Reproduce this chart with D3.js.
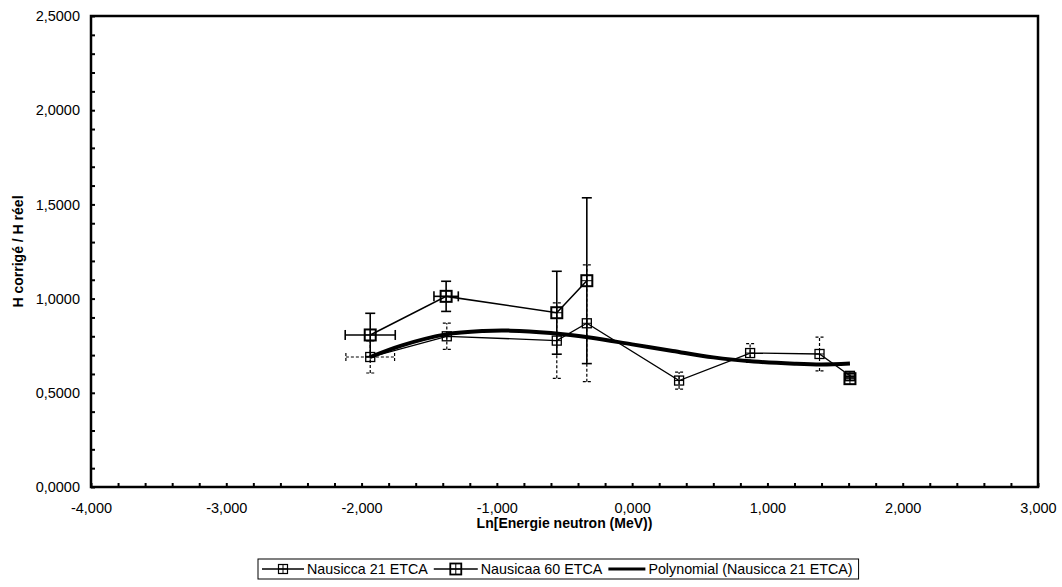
<!DOCTYPE html>
<html><head><meta charset="utf-8">
<script src="https://cdn.jsdelivr.net/npm/d3@7"></script>
<style>body{margin:0;background:#fff}text{font-family:"Liberation Sans",Arial,sans-serif}</style>
</head><body><svg id="c" width="1062" height="587"></svg>
<script>
// ---- data ----
const xTicks = [-4, -3, -2, -1, 0, 1, 2, 3];
const yTicks = [0, 0.5, 1, 1.5, 2, 2.5];
const seriesNames = ["Nausicca 21 ETCA", "Nausicaa 60 ETCA", "Polynomial (Nausicca 21 ETCA)"];
const x21 = [-1.936, -1.37, -0.557, -0.335, 0.347, 0.872, 1.385, 1.61];
const y21 = [0.690, 0.800, 0.777, 0.869, 0.565, 0.711, 0.706, 0.590];
const yErr21 = [0.085, 0.07, 0.20, 0.31, 0.045, 0.05, 0.09, 0.01];
const xErr21 = [0.18, 0, 0, 0, 0, 0, 0, 0];
const x60 = [-1.936, -1.375, -0.557, -0.335, 0.347, 1.61];
const y60 = [0.807, 1.012, 0.925, 1.095, null, 0.575];
const yErr60 = [0.115, 0.08, 0.22, 0.44, 0, 0.01];
const xErr60 = [0.185, 0.09, 0, 0, 0, 0];
const xPoly = [-1.936, -1.7, -1.375, -1.1, -0.9, -0.6, -0.3, 0, 0.3, 0.6, 0.9, 1.2, 1.4, 1.61];
const yPoly = [0.690, 0.752, 0.810, 0.828, 0.830, 0.817, 0.792, 0.757, 0.722, 0.688, 0.666, 0.654, 0.650, 0.655];

const svg = d3.select("#c");
const L = 91, R = 1038, T = 16, B = 487;
const x = d3.scaleLinear().domain([-4, 3]).range([L, R]);
const y = d3.scaleLinear().domain([0, 2.5]).range([B, T]);
const fx = v => d3.format(".3f")(v).replace(".", ",").replace("−", "-");
const fy = v => d3.format(".4f")(v).replace(".", ",");

// minor ticks
const yMinor = d3.range(0, 2.5001, 0.1);
const xMinor = d3.range(-4, 3.0001, 0.2);
svg.append("g").attr("transform", `translate(${L},0)`)
  .call(d3.axisRight(y).tickValues(yMinor).tickSize(4).tickFormat(""))
  .call(g => g.select(".domain").remove())
  .selectAll("line").attr("stroke", "#000").attr("stroke-width", 2);
svg.append("g").attr("transform", `translate(0,${B})`)
  .call(d3.axisTop(x).tickValues(xMinor).tickSize(4).tickFormat(""))
  .call(g => g.select(".domain").remove())
  .selectAll("line").attr("stroke", "#000").attr("stroke-width", 2);

// labels
svg.append("g").attr("transform", `translate(${L},0)`)
  .call(d3.axisLeft(y).tickValues(yTicks).tickSize(0).tickPadding(11).tickFormat(fy))
  .call(g => g.select(".domain").remove())
  .selectAll("text").attr("font-size", 14.5).attr("fill", "#000").attr("font-family", "Liberation Sans, Arial");
svg.append("g").attr("transform", `translate(0,${B})`)
  .call(d3.axisBottom(x).tickValues(xTicks).tickSize(0).tickPadding(16).tickFormat(fx))
  .call(g => g.select(".domain").remove())
  .selectAll("text").attr("font-size", 14.5).attr("fill", "#000").attr("font-family", "Liberation Sans, Arial");

// frame
svg.append("rect").attr("x", L).attr("y", T).attr("width", R - L).attr("height", B - T)
  .attr("fill", "none").attr("stroke", "#000").attr("stroke-width", 2.5);

// axis titles
svg.append("text").attr("x", (L + R) / 2).attr("y", 528).attr("text-anchor", "middle")
  .attr("font-size", 14).attr("font-weight", "bold").text("Ln[Energie neutron (MeV))");
svg.append("text").attr("transform", `translate(23,${(T + B) / 2}) rotate(-90)`).attr("text-anchor", "middle")
  .attr("font-size", 14).attr("font-weight", "bold").text("H corrigé / H réel");

const d21 = x21.map((v, i) => ({x: v, y: y21[i], ey: yErr21[i], ex: xErr21[i]}));
const d60 = x60.map((v, i) => ({x: v, y: y60[i], ey: yErr60[i], ex: xErr60[i]}));
const dPoly = xPoly.map((v, i) => ({x: v, y: yPoly[i]}));

function errBars(data, dash, sw, cap) {
  const g = svg.append("g").attr("stroke", "#000").attr("stroke-width", sw).attr("stroke-dasharray", dash);
  data.filter(d => d.y != null).forEach(d => {
    if (d.ey > 0) {
      g.append("line").attr("x1", x(d.x)).attr("x2", x(d.x)).attr("y1", y(d.y - d.ey)).attr("y2", y(d.y + d.ey));
      [d.y - d.ey, d.y + d.ey].forEach(v => g.append("line").attr("stroke-dasharray", null)
        .attr("x1", x(d.x) - cap).attr("x2", x(d.x) + cap).attr("y1", y(v)).attr("y2", y(v)));
    }
    if (d.ex > 0) {
      g.append("line").attr("x1", x(d.x - d.ex)).attr("x2", x(d.x + d.ex)).attr("y1", y(d.y)).attr("y2", y(d.y));
      [d.x - d.ex, d.x + d.ex].forEach(v => g.append("line").attr("stroke-dasharray", null)
        .attr("x1", x(v)).attr("x2", x(v)).attr("y1", y(d.y) - cap).attr("y2", y(d.y) + cap));
    }
  });
}
errBars(d21, "3,2", 1.2, 4);
errBars(d60, null, 1.6, 5);

const line = d3.line().defined(d => d.y != null).x(d => x(d.x)).y(d => y(d.y));
svg.append("path").datum(d21).attr("d", line).attr("fill", "none").attr("stroke", "#000").attr("stroke-width", 1.3);
svg.append("path").datum(d60).attr("d", line).attr("fill", "none").attr("stroke", "#000").attr("stroke-width", 1.6);
svg.append("path").datum(dPoly).attr("d", d3.line().curve(d3.curveCatmullRom).x(d => x(d.x)).y(d => y(d.y)))
  .attr("fill", "none").attr("stroke", "#000").attr("stroke-width", 4);

function marker(g, cx, cy, s, sw) {
  g.append("rect").attr("x", cx - s / 2).attr("y", cy - s / 2).attr("width", s).attr("height", s)
    .attr("fill", "none").attr("stroke", "#000").attr("stroke-width", sw);
  g.append("line").attr("x1", cx - s / 2).attr("x2", cx + s / 2).attr("y1", cy).attr("y2", cy).attr("stroke", "#000").attr("stroke-width", 1);
  g.append("line").attr("x1", cx).attr("x2", cx).attr("y1", cy - s / 2).attr("y2", cy + s / 2).attr("stroke", "#000").attr("stroke-width", 1);
}
const mg = svg.append("g");
d21.forEach(d => marker(mg, x(d.x), y(d.y), 9, 1.3));
d60.filter(d => d.y != null).forEach(d => marker(mg, x(d.x), y(d.y), 11, 2));

// legend
const lg = svg.append("g");
const box = lg.append("rect").attr("y", 559).attr("height", 20).attr("fill", "#fff").attr("stroke", "#000").attr("stroke-width", 1);
let cx = 262;
const ly = 569;
const symW = [42, 44, 37];
seriesNames.forEach((name, i) => {
  lg.append("line").attr("x1", cx).attr("x2", cx + symW[i]).attr("y1", ly).attr("y2", ly)
    .attr("stroke", "#000").attr("stroke-width", i === 2 ? 3 : 1.3);
  if (i < 2) marker(lg, cx + symW[i] / 2, ly, i === 0 ? 9 : 11, i === 0 ? 1.2 : 1.8);
  const t = lg.append("text").attr("x", cx + symW[i] + 3).attr("y", ly + 5).attr("font-size", 14.3).text(name);
  cx += symW[i] + 3 + t.node().getComputedTextLength() + 6;
});
box.attr("x", 258).attr("width", cx - 258);
</script></body></html>
